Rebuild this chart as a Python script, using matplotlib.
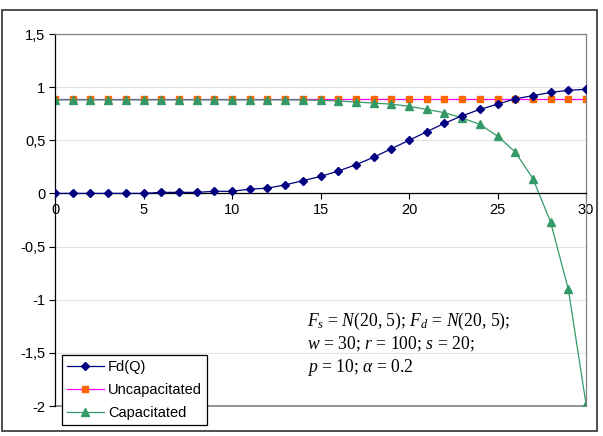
import numpy as np
import matplotlib
matplotlib.use('Agg')
import matplotlib.pyplot as plt
from matplotlib.patches import Rectangle

plt.rcParams['font.family'] = ['Liberation Sans', 'DejaVu Sans']
plt.rcParams['mathtext.fontset'] = 'custom'
plt.rcParams['mathtext.rm'] = 'Liberation Serif'
plt.rcParams['mathtext.it'] = 'Liberation Serif:italic'

# datos
q = list(range(31))
fd = [0.0, 0.0, 0.0, 0.0, 0.0, 0.0, 0.01, 0.01, 0.01, 0.02, 0.02,
      0.04, 0.05, 0.08, 0.12, 0.16, 0.21, 0.27, 0.34, 0.42, 0.50,
      0.58, 0.66, 0.73, 0.79, 0.84, 0.89, 0.92, 0.95, 0.97, 0.98]
uncap = [0.89] * 31
cap = [0.88, 0.88, 0.88, 0.88, 0.88, 0.88, 0.88, 0.88, 0.88, 0.88, 0.88,
       0.88, 0.88, 0.88, 0.88, 0.875, 0.87, 0.86, 0.85, 0.84, 0.82,
       0.79, 0.76, 0.71, 0.65, 0.54, 0.39, 0.14, -0.27, -0.90, -1.98]
yticks = [1.5, 1, 0.5, 0, -0.5, -1, -1.5, -2]
ylabels = ['1,5', '1', '0,5', '0', '-0,5', '-1', '-1,5', '-2']
xticks = [0, 5, 10, 15, 20, 25, 30]

fig = plt.figure(figsize=(6.03, 4.36), dpi=100)
ax = fig.add_axes([55/603, 1-406/436, (586-55)/603, (406-34)/436])

# borde exterior del grafico
fig.patches.append(Rectangle((2/603, 1-431/436), 595/603, 421/436,
                             transform=fig.transFigure, fill=False,
                             edgecolor='#404040', linewidth=1.3))

ax.set_xlim(0, 30)
ax.set_ylim(-2, 1.5)
for yv in yticks:
    ax.axhline(yv, color='#e4e4e4', linewidth=0.8, zorder=0)

ax.plot(q, fd, color='#000080', marker='D', markersize=4.5, linewidth=0.9,
        label='Fd(Q)', zorder=3)
ax.plot(q, uncap, color='#ff00ff', marker='s', markersize=4.5,
        markerfacecolor='#ff6600', markeredgecolor='#ff6600', linewidth=0.9,
        label='Uncapacitated', zorder=2)
ax.plot(q, cap, color='#339966', marker='^', markersize=6, linewidth=0.9,
        label='Capacitated', zorder=2.5)

ax.spines['bottom'].set_position(('data', 0))
ax.spines['bottom'].set_color('black')
ax.spines['left'].set_color('black')
ax.spines['top'].set_color('#808080')
ax.spines['right'].set_color('#808080')
for s in ax.spines.values():
    s.set_linewidth(0.9)
ax.axhline(-2, color='#808080', linewidth=1.2, clip_on=False, zorder=1)

ax.set_xticks(xticks)
ax.set_xticklabels([str(v) for v in xticks])
ax.set_yticks(yticks)
ax.set_yticklabels(ylabels)
ax.tick_params(axis='both', direction='out', length=4, width=0.8,
               labelsize=10.5, pad=3)

leg = ax.legend(loc='lower left', bbox_to_anchor=(62/603, 1-425/436),
                bbox_transform=fig.transFigure, fontsize=10.5, frameon=True,
                fancybox=False, framealpha=1, edgecolor='black',
                handlelength=2.5, borderpad=0.35, labelspacing=0.6,
                handletextpad=0.3, borderaxespad=0)
leg.get_frame().set_linewidth(0.9)
leg.set_zorder(5)

fsz = 12.7
fig.text(307/603, 1-326/436, r'$F_s$ = $N$(20, 5); $F_d$ = $N$(20, 5);',
         fontsize=fsz, family='Liberation Serif', va='baseline')
fig.text(307/603, 1-349/436, r'$w$ = 30; $r$ = 100; $s$ = 20;',
         fontsize=fsz, family='Liberation Serif', va='baseline')
fig.text(307/603, 1-372/436, r'$p$ = 10; $\alpha$ = 0.2',
         fontsize=fsz, family='Liberation Serif', va='baseline')

fig.savefig('out.png', dpi=100)
